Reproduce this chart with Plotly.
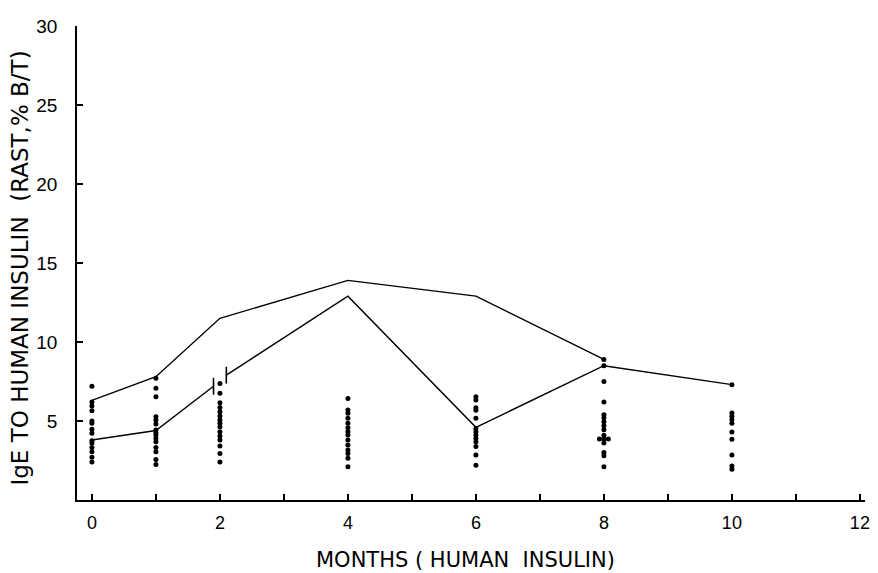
import plotly.graph_objects as go

# ---- data ----
months = [0, 1, 2, 4, 6, 8, 10]

dots_m0 = [7.2, 6.2, 5.95, 5.65, 5.0, 4.85, 4.47, 4.22, 3.75, 3.6, 3.33, 3.06, 2.7, 2.4]
dots_m1 = [7.7, 7.07, 6.54, 5.27, 5.06, 4.81, 4.43, 4.26, 4.11, 3.9, 3.69, 3.33, 3.06, 2.57, 2.25]
dots_m2 = [7.38, 6.75, 6.16, 5.86, 5.59, 5.32, 5.06, 4.85, 4.64, 4.32, 4.05, 3.8, 3.42, 2.95, 2.4]
dots_m4 = [6.43, 5.7, 5.49, 5.17, 4.85, 4.58, 4.32, 4.11, 3.8, 3.48, 3.16, 2.95, 2.64, 2.11]
dots_m6 = [6.54, 6.33, 5.84, 5.68, 5.17, 4.53, 4.32, 4.11, 3.9, 3.69, 3.38, 2.85, 2.2]
dots_m8 = [8.9, 8.5, 7.5, 6.2, 5.4, 5.2, 4.95, 4.7, 4.45, 4.1, 3.86, 3.86, 3.86, 3.6, 3.0, 2.8, 2.1]
dots_m10 = [7.3, 5.5, 5.3, 5.1, 4.85, 4.3, 3.85, 2.85, 2.15, 1.95]
dot_offsets_m8 = [0, 0, 0, 0, 0, 0, 0, 0, 0, 0, -0.07, 0, 0.07, 0, 0, 0, 0]

upper_x = [0, 1, 2, 4, 6, 8]
upper_y = [6.3, 7.8, 11.5, 13.9, 12.9, 8.9]

lower_x_a = [0, 1, 1.9]
lower_y_a = [3.8, 4.4, 7.2]
lower_x_b = [2.1, 4, 6, 8, 10]
lower_y_b = [7.9, 12.9, 4.6, 8.5, 7.3]

x_ticks = list(range(0, 13))
x_tick_labels = [str(v) if v % 2 == 0 else "" for v in x_ticks]
y_ticks = [0, 5, 10, 15, 20, 25, 30]
y_tick_labels = ["", "5", "10", "15", "20", "25", "30"]

FONT = "Liberation Sans, Arial, Helvetica, sans-serif"
TITLE_FONT = "DejaVu Sans, Liberation Sans, sans-serif"

fig = go.Figure()

all_dots = [dots_m0, dots_m1, dots_m2, dots_m4, dots_m6, dots_m8, dots_m10]
for m, vals in zip(months, all_dots):
    if m == 8:
        xs = [m + o for o in dot_offsets_m8]
    else:
        xs = [m] * len(vals)
    fig.add_trace(go.Scatter(x=xs, y=vals, mode="markers",
                             marker=dict(color="black", size=5),
                             showlegend=False, hoverinfo="skip"))

fig.add_trace(go.Scatter(x=upper_x, y=upper_y, mode="lines",
                         line=dict(color="black", width=1.4),
                         showlegend=False))
fig.add_trace(go.Scatter(x=lower_x_a, y=lower_y_a, mode="lines",
                         line=dict(color="black", width=1.4),
                         showlegend=False))
fig.add_trace(go.Scatter(x=lower_x_b, y=lower_y_b, mode="lines",
                         line=dict(color="black", width=1.4),
                         showlegend=False))
# break marks on the lower line around month 2
fig.add_trace(go.Scatter(x=[lower_x_a[-1], lower_x_b[0]],
                         y=[lower_y_a[-1], lower_y_b[0]], mode="markers",
                         marker=dict(symbol="line-ns", size=12,
                                     line=dict(color="black", width=1.6)),
                         showlegend=False))

fig.update_layout(
    width=870, height=565,
    margin=dict(l=69, r=8, t=18, b=73),
    paper_bgcolor="white", plot_bgcolor="white",
    font=dict(family=FONT, color="black", size=16),
    xaxis=dict(range=[-0.233, 12.08], tickvals=x_ticks, ticktext=x_tick_labels,
               showline=True, linecolor="black", linewidth=1.5,
               ticks="inside", ticklen=6, tickwidth=1.5, tickcolor="black",
               showgrid=False, zeroline=False, ticklabelstandoff=6,
               tickfont=dict(size=18)),
    yaxis=dict(range=[0, 30], tickvals=y_ticks, ticktext=y_tick_labels,
               showline=True, linecolor="black", linewidth=1.5,
               ticks="inside", ticklen=6, tickwidth=1.5, tickcolor="black",
               showgrid=False, zeroline=False, ticklabelstandoff=14,
               tickfont=dict(size=19)),
    annotations=[
        dict(text="MONTHS ( HUMAN  INSULIN)", xref="paper", yref="paper",
             x=0.493, y=-0.127, xanchor="center", yanchor="middle",
             showarrow=False, font=dict(size=21, family=TITLE_FONT)),
        dict(text="IgE TO HUMAN INSULIN  (RAST,% B/T)", xref="paper", yref="paper",
             x=-0.0719, y=0.489, xanchor="center", yanchor="middle",
             textangle=-90, showarrow=False, font=dict(size=23, family=TITLE_FONT)),
    ],
)

fig.write_html("out.html")
